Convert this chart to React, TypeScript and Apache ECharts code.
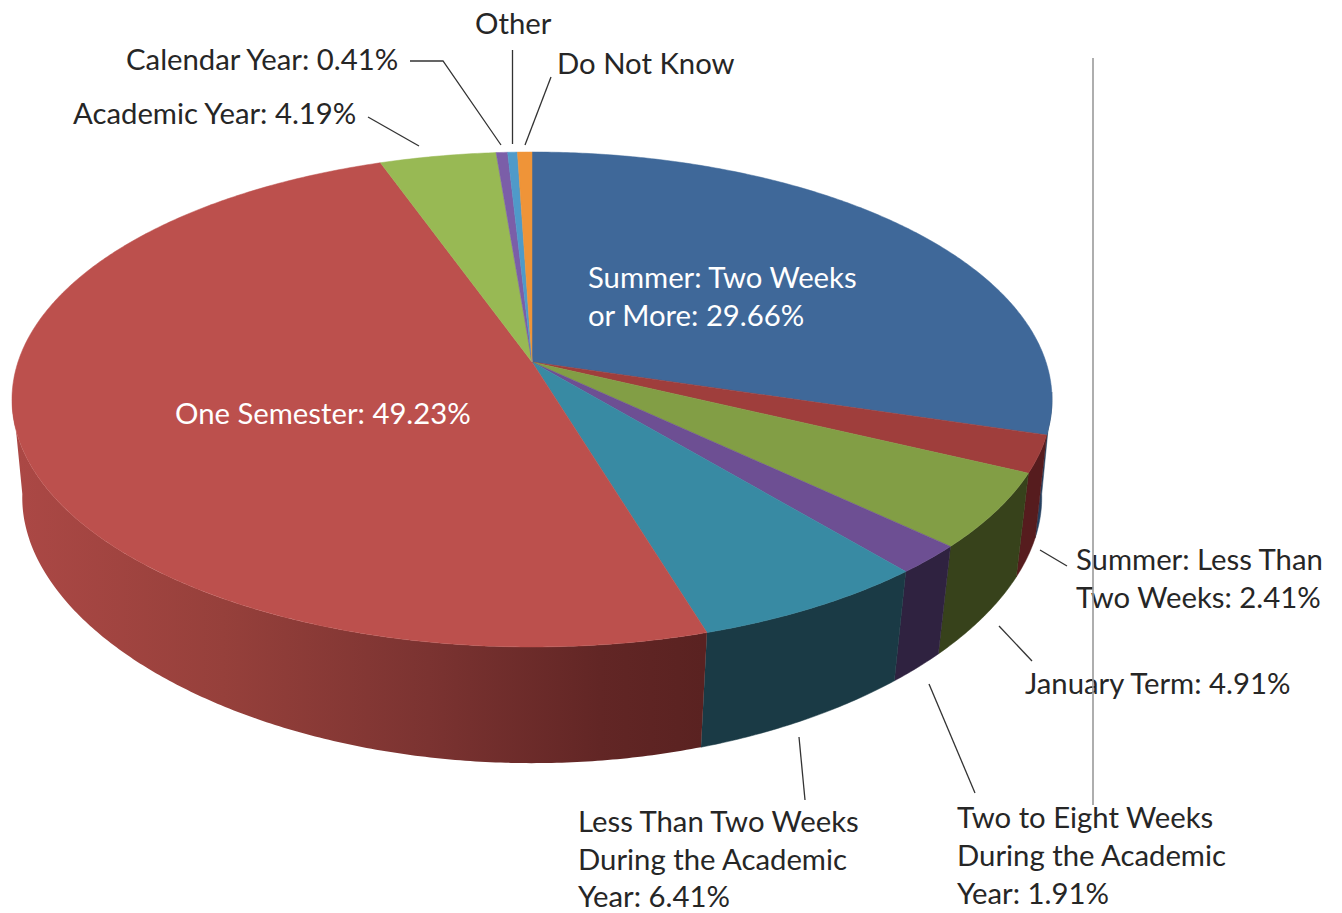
import React, { useEffect, useRef } from "react";
import * as echarts from "echarts";

const categories = [
  "Summer: Two Weeks or More",
  "Summer: Less Than Two Weeks",
  "January Term",
  "Two to Eight Weeks During the Academic Year",
  "Less Than Two Weeks During the Academic Year",
  "One Semester",
  "Academic Year",
  "Calendar Year",
  "Other",
  "Do Not Know",
];
const values = [29.66, 2.41, 4.91, 1.91, 6.41, 49.23, 4.19, 0.41, 0.35, 0.52];
const topColors = ["#3f6899", "#9f3e3c", "#829e45", "#6d4f93", "#388aa3", "#bc504d", "#98b954", "#7b5ea8", "#4f9ac9", "#ef9438"];
const sideColors: (string | [number, string][])[] = [
  "#26405f",
  "#561c1e",
  "#37421b",
  "#2f2240",
  "#1a3a45",
  [[0, "#ab4845"], [0.3, "#96403b"], [0.6, "#7b3331"], [0.85, "#622625"], [1, "#5a2221"]],
  "#5a7030",
  "#4a3a66",
  "#2f5f7a",
  "#a06020",
];

const labelLines: [string, number, number, string][] = [
  ["Other", 475, 22, "#262626"],
  ["Do Not Know", 557, 62, "#262626"],
  ["Calendar Year: 0.41%", 126, 58, "#262626"],
  ["Academic Year: 4.19%", 73, 112, "#262626"],
  ["Summer: Two Weeks", 588, 276, "#ffffff"],
  ["or More: 29.66%", 588, 314, "#ffffff"],
  ["One Semester: 49.23%", 175, 412, "#ffffff"],
  ["Summer: Less Than", 1076, 558, "#262626"],
  ["Two Weeks: 2.41%", 1076, 596, "#262626"],
  ["January Term: 4.91%", 1025, 682, "#262626"],
  ["Less Than Two Weeks", 578, 820, "#262626"],
  ["During the Academic", 578, 858, "#262626"],
  ["Year: 6.41%", 578, 895, "#262626"],
  ["Two to Eight Weeks", 957, 816, "#262626"],
  ["During the Academic", 957, 854, "#262626"],
  ["Year: 1.91%", 957, 892, "#262626"],
];
const leaders: number[][][] = [
  [[368, 117], [419, 146]],
  [[410, 61], [443, 61], [501, 145]],
  [[512.5, 50], [512.5, 144]],
  [[551, 77], [525, 145]],
  [[1040, 550], [1067, 566]],
  [[999, 626], [1032, 661]],
  [[929, 684], [975, 793]],
  [[799, 737], [805, 800]],
];

// Projected disc: a circle seen in perspective.
const topFace = { cx: 532, cy: 362, rx: 514, ry: 241.8, kx: 0.1515, ky: 0.1515 };
const lowFace = { cx: 532, cy: 464, rx: 505, ry: 240.8, kx: 0.136, ky: 0.195 };
type Face = typeof topFace;

function project(f: Face, deg: number): number[] {
  const t = (deg * Math.PI) / 180;
  const u = Math.sin(t);
  const v = Math.cos(t);
  return [f.cx + (f.rx * u) / (1 + f.kx * v), f.cy - (f.ry * v) / (1 + f.ky * v)];
}
function arc(f: Face, a: number, b: number): number[][] {
  const n = Math.max(2, Math.ceil(Math.abs(b - a) * 2));
  const out: number[][] = [];
  for (let i = 0; i <= n; i++) out.push(project(f, a + ((b - a) * i) / n));
  return out;
}
const total = values.reduce((s, v) => s + v, 0);
function spanOf(i: number): [number, number] {
  let s = 0;
  for (let j = 0; j < i; j++) s += values[j];
  return [(s / total) * 360, ((s + values[i]) / total) * 360];
}

const SIDE_FROM = 97;
const SIDE_TO = 263;

function renderSide(_: any, api: any) {
  const i = api.value(0) as number;
  const [a0, b0] = spanOf(i);
  const a = Math.max(a0, SIDE_FROM);
  const b = Math.min(b0, SIDE_TO);
  if (b <= a) return { type: "group", children: [] };
  const pts = [...arc(topFace, a, b), ...arc(lowFace, b, a)];
  const c = sideColors[i];
  const fill =
    typeof c === "string"
      ? c
      : new echarts.graphic.LinearGradient(18, 0, 703, 0, c.map(([offset, color]) => ({ offset, color })), true);
  return {
    type: "polygon",
    shape: { points: pts },
    style: { fill, stroke: typeof c === "string" ? c : "none", lineWidth: 0.5 },
  };
}
function renderTop(_: any, api: any) {
  const i = api.value(0) as number;
  const [a, b] = spanOf(i);
  const pts = [[topFace.cx, topFace.cy], ...arc(topFace, a, b)];
  return {
    type: "polygon",
    shape: { points: pts },
    style: { fill: topColors[i], stroke: topColors[i], lineWidth: 0.5 },
  };
}

export default function App() {
  const ref = useRef<HTMLDivElement>(null);
  useEffect(() => {
    const chart = echarts.init(ref.current!, null, { renderer: "svg" });
    const rows = categories.map((name, i) => ({ name, value: [i, values[i]] }));
    chart.setOption({
      animation: false,
      backgroundColor: "#ffffff",
      series: [
        { type: "custom", coordinateSystem: "none", renderItem: renderSide, data: rows, z: 1, silent: true },
        { type: "custom", coordinateSystem: "none", renderItem: renderTop, data: rows, z: 2, silent: true },
      ],
      graphic: [
        ...leaders.map((points) => ({
          type: "polyline",
          z: 5,
          shape: { points },
          style: { fill: "none", stroke: "#333333", lineWidth: 1.3 },
        })),
        ...labelLines.map(([text, x, y, fill]) => ({
          type: "text",
          z: 6,
          x,
          y,
          style: {
            text,
            fill,
            font: '29.3px Lato, "Open Sans", sans-serif',
            textAlign: "left",
            textVerticalAlign: "middle",
          },
        })),
        {
          type: "line",
          z: 7,
          shape: { x1: 1093, y1: 58, x2: 1093, y2: 805 },
          style: { stroke: "#9a9a9a", lineWidth: 1.6 },
        },
      ],
    });
    return () => chart.dispose();
  }, []);
  return <div ref={ref} style={{ position: "absolute", left: 0, top: 0, width: 1342, height: 913 }} />;
}
